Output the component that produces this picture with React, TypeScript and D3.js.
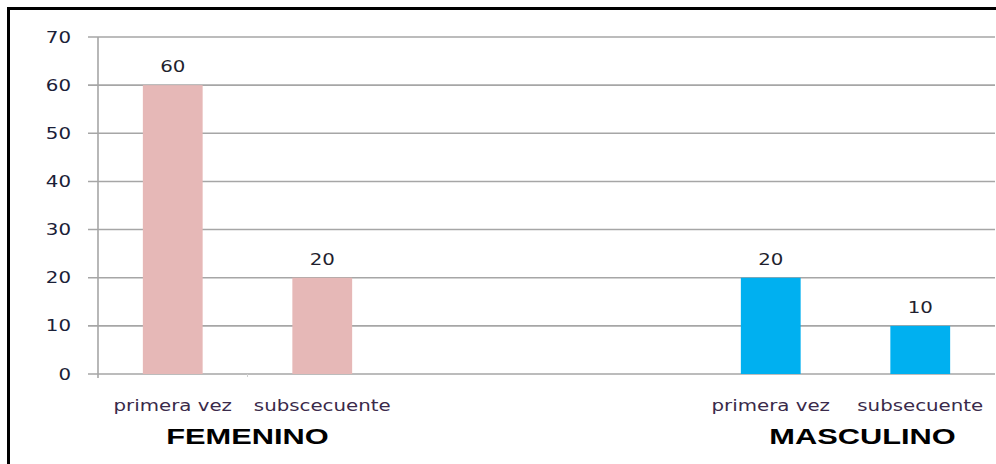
import React from "react";
import * as d3 from "d3";

const WIDTH = 996;
const HEIGHT = 464;
const MARGIN = { top: 37, left: 98, right: 1, bottom: 90 };

// one slot per x position; the two middle slots are empty
const slotIds = ["f1", "f2", "gap1", "gap2", "m1", "m2"];
const slotLabels = ["primera vez", "subscecuente", "", "", "primera vez", "subsecuente"];
const slotValues = [60, 20, null, null, 20, 10];
const slotGroup = ["FEMENINO", "FEMENINO", "", "", "MASCULINO", "MASCULINO"];
const groups = ["FEMENINO", "MASCULINO"];
const groupColors = ["#e6b8b7", "#00b0f0"];
const yTicks = [0, 10, 20, 30, 40, 50, 60, 70];

const STRETCH = 1.32;

const StretchText = ({ x, y, children, anchor = "middle", size = 15, weight = "normal", fill = "#222", family = "'DejaVu Sans', Verdana, sans-serif", stretch = STRETCH }) => (
  <g transform={`translate(${x},${y}) scale(${stretch},1)`}>
    <text
      textAnchor={anchor}
      fontFamily={family}
      fontSize={size}
      fontWeight={weight}
      fill={fill}
    >
      {children}
    </text>
  </g>
);

export default function App() {
  const x = d3
    .scaleBand()
    .domain(slotIds)
    .range([MARGIN.left, WIDTH - MARGIN.right])
    .padding(0);
  const y = d3
    .scaleLinear()
    .domain([0, 70])
    .range([HEIGHT - MARGIN.bottom, MARGIN.top]);

  const barW = x.bandwidth() * 0.4;
  const color = d3.scaleOrdinal().domain(groups).range(groupColors);

  const groupCenter = g => {
    const ids = slotIds.filter((_, i) => slotGroup[i] === g);
    return d3.mean(ids, id => x(id) + x.bandwidth() / 2);
  };
  const groupNudge = { FEMENINO: 0, MASCULINO: 17 };

  return (
    <svg
      width={WIDTH}
      height={HEIGHT}
      style={{ position: "absolute", left: 0, top: 0, background: "#fff" }}
    >
      {/* frame */}
      <line x1={7} x2={WIDTH} y1={8.5} y2={8.5} stroke="#000" strokeWidth={3} />
      <line x1={8.5} x2={8.5} y1={7} y2={HEIGHT} stroke="#000" strokeWidth={3} />

      {/* gridlines + y ticks */}
      {yTicks.map(t => (
        <g key={t}>
          <line
            x1={MARGIN.left - 10}
            x2={WIDTH - MARGIN.right}
            y1={y(t)}
            y2={y(t)}
            stroke="#a6a6a6"
            strokeWidth={1.6}
          />
          <StretchText x={71} y={y(t) + 5.5} anchor="end" fill="#1a2038">
            {t}
          </StretchText>
        </g>
      ))}

      {/* y axis */}
      <line
        x1={MARGIN.left}
        x2={MARGIN.left}
        y1={y(70)}
        y2={y(0) + 4}
        stroke="#a6a6a6"
        strokeWidth={1.6}
      />
      <line
        x1={x("f2")}
        x2={x("f2")}
        y1={y(0)}
        y2={y(0) + 3}
        stroke="#d0d0d0"
        strokeWidth={1}
      />

      {/* bars */}
      {slotIds.map((id, i) => {
        const v = slotValues[i];
        if (v == null) return null;
        const cx = x(id) + x.bandwidth() / 2;
        return (
          <g key={id}>
            <rect
              x={cx - barW / 2}
              y={y(v)}
              width={barW}
              height={y(0) - y(v)}
              fill={color(slotGroup[i])}
            />
            <StretchText x={cx} y={y(v) - 13} fill="#1f1f2e">
              {v}
            </StretchText>
          </g>
        );
      })}

      {/* category labels */}
      {slotIds.map((id, i) =>
        slotLabels[i] ? (
          <StretchText key={id} x={x(id) + x.bandwidth() / 2} y={411} fill="#3a2a4a" size={15}>
            {slotLabels[i]}
          </StretchText>
        ) : null
      )}

      {/* group labels */}
      {groups.map(g => (
        <StretchText
          key={g}
          x={groupCenter(g) + groupNudge[g]}
          y={444}
          size={22}
          weight="bold"
          fill="#000"
          family="'Liberation Sans', Arial, sans-serif"
          stretch={1.4}
        >
          {g}
        </StretchText>
      ))}
    </svg>
  );
}
